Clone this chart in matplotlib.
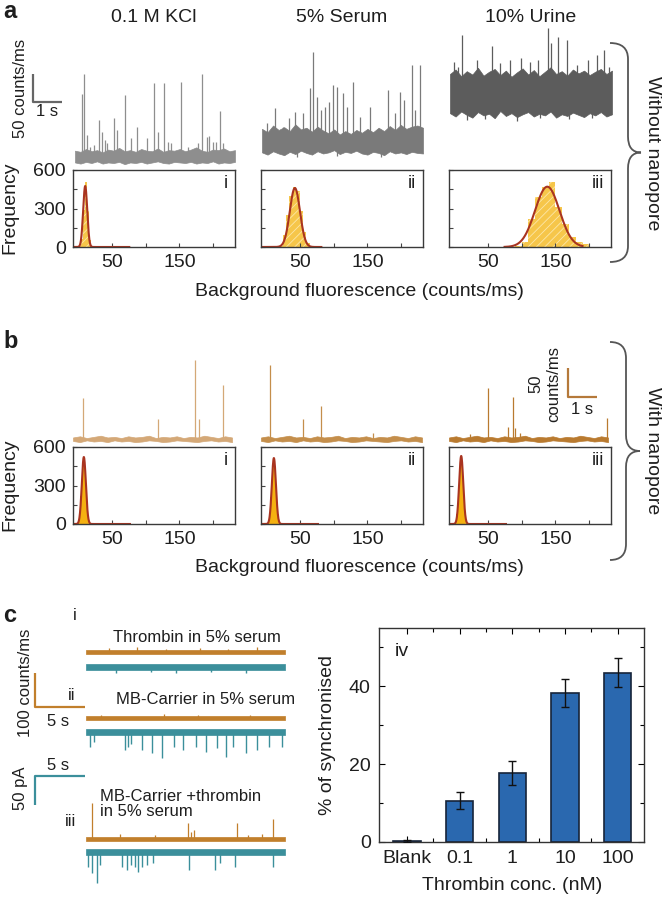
import numpy as np
import matplotlib.pyplot as plt
from matplotlib.path import Path
from matplotlib.patches import PathPatch

plt.rcParams['font.family'] = ['Liberation Sans', 'DejaVu Sans']
plt.rcParams['hatch.linewidth'] = 0.6

W, H = 663, 898
INK = '#1e1e1e'

# ---------------- data ----------------
# a) traces without nanopore: spikes (s, counts/ms) and noise band edges (counts/ms)
a_spike_t = [
    [0.24, 0.31, 0.41, 0.52, 0.66, 0.83, 0.93, 1.03, 1.10, 1.34, 1.45, 1.72, 1.93, 2.14, 2.48,
     2.72, 2.86, 3.07, 3.21, 3.31, 3.66, 3.90, 4.24, 4.38, 4.55, 4.62, 4.76, 4.86, 5.00, 5.10],
    [0.17, 0.45, 0.72, 0.93, 1.14, 1.41, 1.66, 1.76, 1.90, 2.03, 2.17, 2.31, 2.45, 2.59, 2.79,
     2.93, 3.14, 3.38, 3.72, 4.34, 4.59, 4.76, 4.90, 5.17, 5.28, 5.45],
    [0.14, 0.28, 0.41, 0.93, 1.45, 1.72, 2.07, 2.45, 2.76, 3.03, 3.38, 3.48, 3.72, 4.03, 4.38,
     4.76, 5.07, 5.31, 5.48],
]
a_spike_y = [
    [126, 162, 53, 31, 35, 80, 58, 44, 39, 83, 62, 124, 48, 67, 48,
     146, 58, 146, 40, 39, 148, 31, 39, 162, 49, 51, 40, 40, 96, 39],
    [74, 101, 67, 83, 94, 92, 137, 201, 121, 98, 103, 112, 142, 139, 128,
     103, 148, 85, 103, 133, 92, 130, 116, 178, 98, 178],
    [183, 174, 231, 187, 212, 181, 187, 190, 183, 187, 244, 217, 228, 223, 178,
     187, 196, 205, 174],
]
a_dip_t = [[], [1.2, 2.6, 4.1], [0.6, 1.2, 2.3, 3.1, 4.1, 4.9]]
a_dip_y = [[], [14, 15, 13], [80, 82, 78, 84, 81, 83]]
a_band_hi = [
    [25, 23, 28, 24, 26, 22, 27, 25, 30, 24, 26, 23, 28, 25, 24,
     29, 23, 26, 25, 28, 24, 27, 31, 25, 23, 27, 26, 29, 24, 26],
    [64, 58, 70, 62, 67, 60, 72, 63, 66, 59, 68, 61, 56, 63, 54,
     60, 55, 62, 57, 64, 58, 66, 60, 69, 62, 71, 64, 68, 70, 66],
    [162, 170, 158, 167, 161, 173, 159, 166, 171, 160, 168, 157, 165, 172, 161,
     169, 158, 166, 174, 162, 167, 159, 170, 163, 168, 160, 166, 171, 162, 168],
]
a_band_lo = [
    [4, 2, 5, 3, 6, 2, 4, 3, 5, 1, 4, 3, 5, 2, 4,
     6, 3, 2, 5, 4, 3, 5, 2, 4, 3, 6, 2, 4, 3, 5],
    [22, 18, 24, 20, 17, 23, 19, 25, 21, 18, 24, 20, 22, 26, 19,
     23, 21, 25, 20, 18, 23, 21, 17, 24, 20, 22, 19, 23, 21, 20],
    [92, 86, 95, 89, 84, 94, 88, 91, 83, 96, 87, 92, 85, 90, 94,
     86, 91, 88, 95, 84, 90, 87, 93, 89, 85, 92, 88, 94, 86, 90],
]

# b) traces with nanopore
b_spike_t = [
    [0.34, 2.93, 4.21, 4.34, 5.17],
    [0.31, 1.45, 2.07, 3.86],
    [0.72, 1.34, 2.03, 2.21, 2.28, 2.45, 5.45],
]
b_spike_y = [
    [81, 45, 147, 45, 103],
    [138, 45, 67, 21],
    [19, 98, 31, 83, 29, 21, 47],
]
b_band_hi = [13, 15, 12, 14, 16, 13, 14, 12, 15, 13, 14, 16, 12, 14, 13, 15, 12, 14, 13, 16,
             14, 12, 15, 13]
b_band_lo = [7, 5, 8, 6, 7, 5, 8, 6, 7, 5, 6, 8, 7, 5, 6, 8, 7, 6, 5, 7, 8, 6, 7, 5]

# histograms (bin centre, frequency) and gaussian fits (mean, sd, amplitude)
a_hist_x = [
    [3, 6, 9, 12, 15, 18, 21],
    [22.5, 27.5, 32.5, 37.5, 42.5, 47.5, 52.5, 57.5, 62.5, 67.5],
    [95, 105, 115, 125, 135, 145, 155, 165, 175, 185, 195],
]
a_hist_y = [
    [10, 60, 290, 509, 280, 55, 8],
    [10, 90, 250, 400, 470, 440, 280, 120, 35, 8],
    [10, 39, 220, 390, 466, 506, 312, 182, 80, 40, 20],
]
a_bin_w = [3, 5, 10]
a_fit = [(11, 3.0, 475), (43, 7.5, 460), (138, 18, 470)]
a_fit_span = [(-7, 76), (-7, 82), (75, 190)]

b_hist_x = [
    [1, 3, 5, 7, 9, 11, 13, 15, 17],
    [4, 6, 8, 10, 12, 14, 16, 18, 20],
    [3, 5, 7, 9, 11, 13, 15, 17, 19],
]
b_hist_y = [
    [15, 75, 220, 420, 525, 410, 210, 70, 15],
    [15, 70, 210, 410, 515, 420, 220, 75, 15],
    [15, 75, 215, 425, 532, 420, 215, 70, 15],
]
b_fit = [(9, 3.0, 522), (12, 3.0, 514), (11, 3.0, 530)]
b_fit_span = [(-7, 77), (-7, 77), (-7, 77)]

# c) optical (counts/ms) and ionic current (pA) traces
c_opt_t = [
    [2.3, 5.1, 8.0, 11.4, 14.2, 17.1],
    [1.5, 7.8, 11.2, 16.4],
    [0.6, 3.4, 6.9, 10.2, 10.5, 10.8, 15.1, 16.2, 17.6, 18.7],
]
c_opt_y = [
    [22, 24, 18, 21, 19, 24],
    [20, 22, 18, 20],
    [116, 25, 22, 57, 31, 36, 57, 22, 25, 69],
]
c_cur_t = [
    [3.0, 6.5, 9.0, 12.5, 16.0],
    [0.4, 0.8, 3.9, 4.2, 4.5, 5.6, 6.6, 7.6, 8.8, 9.7, 11.0, 12.0, 13.1, 14.0, 14.7,
     16.0, 17.1, 18.3, 19.6],
    [0.2, 0.6, 1.1, 1.4, 3.6, 4.1, 4.5, 4.9, 5.2, 5.6, 6.1, 6.7, 10.3, 12.9, 13.4, 14.9, 18.7],
]
c_cur_y = [
    [-10, -9, -11, -9, -10],
    [-26, -17, -31, -26, -21, -31, -36, -45, -26, -31, -26, -34, -28, -43, -26,
     -36, -31, -26, -26],
    [-26, -36, -53, -22, -26, -31, -22, -26, -34, -26, -22, -19, -31, -31, -19, -26, -26],
]
c_opt_band = (4, 16)
c_cur_band = (-6, 5)
c_titles = ['Thrombin in 5% serum', 'MB-Carrier in 5% serum', 'MB-Carrier +thrombin\nin 5% serum']

# c iv) synchronised events
conc = ['Blank', '0.1', '1', '10', '100']
sync_pct = [0.3, 10.6, 17.8, 38.3, 43.5]
sync_err = [0.3, 2.2, 3.1, 3.6, 3.7]

# ---------------- figure ----------------
fig = plt.figure(figsize=(W / 100, H / 100), dpi=100)
ov = fig.add_axes([0, 0, 1, 1])
ov.set_xlim(0, W)
ov.set_ylim(H, 0)
ov.axis('off')


def px_axes(l, t, r, b):
    return fig.add_axes([l / W, 1 - b / H, (r - l) / W, (b - t) / H])


def trace_axes(l, r, t, b, px_s, px_unit, zero_px):
    ax = px_axes(l, t, r, b)
    ax.set_xlim(0, (r - l) / px_s)
    ax.set_ylim((zero_px - b) / px_unit, (zero_px - t) / px_unit)
    ax.axis('off')
    return ax


def label(x, y, s, size=14, **kw):
    kw.setdefault('ha', 'center')
    kw.setdefault('va', 'center')
    ov.text(x, y, s, fontsize=size, color=INK, **kw)


def draw_trace(ax, dur, hi, lo, st, sy, color, lw=0.9, dt=(), dy=()):
    tt = np.linspace(0, dur, len(hi))
    ax.fill_between(tt, lo, hi, color=color, lw=0.5, edgecolor=color, clip_on=False)
    mid = (np.array(hi) + np.array(lo)) / 2
    base = np.interp(st, tt, mid)
    ax.vlines(st, base, sy, color=color, lw=lw, clip_on=False)
    if len(dt):
        ax.vlines(dt, np.interp(dt, tt, mid), dy, color=color, lw=lw, clip_on=False)


def brace(x_end, y_top, y_bot, x_mid, x_tip, r=16):
    yc = (y_top + y_bot) / 2
    verts = [(x_end, y_top), (x_mid, y_top), (x_mid, y_top + r),
             (x_mid, yc - r), (x_mid, yc), (x_tip, yc),
             (x_mid, yc), (x_mid, yc + r),
             (x_mid, y_bot - r), (x_mid, y_bot), (x_end, y_bot)]
    codes = [Path.MOVETO, Path.CURVE3, Path.CURVE3,
             Path.LINETO, Path.CURVE3, Path.CURVE3,
             Path.CURVE3, Path.CURVE3,
             Path.LINETO, Path.CURVE3, Path.CURVE3]
    ov.add_patch(PathPatch(Path(verts, codes), fill=False, color='#555555', lw=1.3))


def hist_panel(l, t, r, b, xs, ys, width, fit, span, face, hatch, show_y, tag):
    ax = px_axes(l, t, r, b)
    if hatch:
        ax.bar(xs, ys, width=width, color=face, edgecolor='#FCE7A8', hatch='////', linewidth=0)
    else:
        ax.bar(xs, ys, width=width, color=face, linewidth=0)
    mu, sd, amp = fit
    gx = np.linspace(span[0], span[1], 400)
    ax.plot(gx, amp * np.exp(-0.5 * ((gx - mu) / sd) ** 2), color='#A93420', lw=1.5)
    ax.set_xlim(-7, 232)
    ax.set_ylim(0, 600)
    ax.set_xticks([50, 100, 150, 200])
    ax.set_xticklabels(['50', '', '150', ''])
    ax.set_yticks([0, 150, 300, 450, 600])
    if show_y:
        ax.set_yticklabels(['0', '', '300', '', '600'])
    else:
        ax.set_yticklabels([])
    ax.tick_params(direction='in', length=3, width=0.8, color='#444444',
                   labelcolor=INK, labelsize=14, pad=5)
    for s in ax.spines.values():
        s.set_color('#3a3a3a')
        s.set_linewidth(1.0)
    ax.text(0.955, 0.93, tag, transform=ax.transAxes, ha='right', va='top',
            fontsize=13, color=INK)
    return ax


cols = [(73, 235), (261, 423), (449, 611)]
tags = ['i', 'ii', 'iii']

# ---- panel a ----
a_cols = [(75, 235), (262, 423), (450, 612)]
a_colors = ['#8e8e8e', '#7a7a7a', '#5c5c5c']
for k in range(3):
    l, r = a_cols[k]
    ax = trace_axes(l, r, 20, 168, 29, 0.56, 164.7)
    draw_trace(ax, (r - l) / 29, a_band_hi[k], a_band_lo[k], a_spike_t[k], a_spike_y[k],
               a_colors[k], dt=a_dip_t[k], dy=a_dip_y[k])
    if k == 0:
        ax.plot([-1.45, -1.45, -0.45], [162, 112, 112], color='#666666', lw=1.6,
                clip_on=False, solid_capstyle='butt')
    hist_panel(cols[k][0], 170, cols[k][1], 247, a_hist_x[k], a_hist_y[k], a_bin_w[k],
               a_fit[k], a_fit_span[k], '#F6C64A', True, k == 0, tags[k])

label(3, 12, 'a', size=17, weight='bold', ha='left')
for x, s in zip([154, 342, 531], ['0.1 M KCl', '5% Serum', '10% Urine']):
    label(x, 18, s)
label(21, 88, '50 counts/ms', size=12, rotation=90)
label(47, 111, '1 s', size=12)
label(10, 208, 'Frequency', rotation=90)
label(359, 292, 'Background fluorescence (counts/ms)')
brace(610, 43, 262, 628, 641)
label(653, 153, 'Without nanopore', rotation=-90)

# ---- panel b ----
b_cols = [(73, 232), (261, 422), (449, 608)]
b_colors = ['#D4A877', '#C48E4B', '#B97A2F']
for k in range(3):
    l, r = b_cols[k]
    ax = trace_axes(l, r, 340, 446, 29, 0.58, 445)
    draw_trace(ax, (r - l) / 29, b_band_hi, b_band_lo, b_spike_t[k], b_spike_y[k],
               b_colors[k])
    if k == 2:
        ax.plot([4.10, 4.10, 5.10], [133, 83, 83], color='#B5793A', lw=1.6,
                clip_on=False, solid_capstyle='butt')
    hist_panel(cols[k][0], 447, cols[k][1], 524, b_hist_x[k], b_hist_y[k], 2,
               b_fit[k], b_fit_span[k], '#F5B111', False, k == 0, tags[k])

label(3, 342, 'b', size=17, weight='bold', ha='left')
label(545, 384, '50\ncounts/ms', size=12, rotation=90, multialignment='center')
label(582, 409, '1 s', size=12)
label(10, 485, 'Frequency', rotation=90)
label(359, 568, 'Background fluorescence (counts/ms)')
brace(610, 342, 560, 626, 640)
label(653, 451, 'With nanopore', rotation=-90)

# ---- panel c traces ----
ORANGE, TEAL = '#C17F2C', '#3B8F9B'
opt_base = [652, 718, 839]
cur_base = [667, 732, 852]
for k in range(3):
    ax = trace_axes(86, 285, opt_base[k] - 50, opt_base[k] + 6, 10, 0.34, opt_base[k] + 3.4)
    draw_trace(ax, 19.9, [c_opt_band[1]] * 2, [c_opt_band[0]] * 2, c_opt_t[k], c_opt_y[k],
               ORANGE)
    if k == 1:
        ax.plot([-5.1, -5.1, -0.1], [142, 42, 42], color=ORANGE, lw=1.6,
                clip_on=False, solid_capstyle='butt')
    ax = trace_axes(86, 285, cur_base[k] - 8, cur_base[k] + 35, 10, 0.58, cur_base[k])
    draw_trace(ax, 19.9, [c_cur_band[1]] * 2, [c_cur_band[0]] * 2, c_cur_t[k], c_cur_y[k],
               TEAL, lw=1.0)
    if k == 2:
        ax.plot([-0.1, -5.1, -5.1], [131, 131, 81], color=TEAL, lw=1.6,
                clip_on=False, solid_capstyle='butt')

label(3, 615, 'c', size=17, weight='bold', ha='left')
label(75, 615, 'i', size=12)
label(197, 637, c_titles[0], size=12)
label(72, 695, 'ii', size=12)
label(206, 699, c_titles[1], size=12)
label(100, 804, c_titles[2], size=12, ha='left', linespacing=1.05)
label(71, 822, 'iii', size=12)
label(26, 683, '100 counts/ms', size=12, rotation=90)
label(58, 721, '5 s', size=12)
label(58, 766, '5 s', size=12)
label(21, 788, '50 pA', size=12, rotation=90)

# ---- panel c iv bars ----
ax = px_axes(379, 628, 644, 842)
xpos = np.arange(len(conc))
ax.bar(xpos, sync_pct, width=0.52, color='#2A68AF', edgecolor='#16243a', lw=1.2, zorder=2)
ax.errorbar(xpos, sync_pct, yerr=sync_err, fmt='none', ecolor='#111111', elinewidth=1,
            capsize=3, capthick=1, zorder=3)
ax.set_xlim(-0.53, 4.5)
ax.set_ylim(0, 55)
ax.set_xticks(xpos)
ax.set_xticklabels(conc)
ax.set_xticks(xpos[:-1] + 0.5, minor=True)
ax.set_yticks([0, 20, 40])
ax.set_yticks([10, 30, 50], minor=True)
ax.tick_params(which='both', direction='in', top=True, right=True, length=4, width=0.8,
               labelsize=14, labelcolor=INK, pad=6)
ax.tick_params(which='minor', length=3)
for s in ax.spines.values():
    s.set_color('#333333')
    s.set_linewidth(1.0)
ax.text(0.06, 0.89, 'iv', transform=ax.transAxes, ha='left', va='center', fontsize=14,
        color=INK)
label(327, 735, '% of synchronised', rotation=90)
label(512, 885, 'Thrombin conc. (nM)')

fig.savefig('out.png', dpi=100)
